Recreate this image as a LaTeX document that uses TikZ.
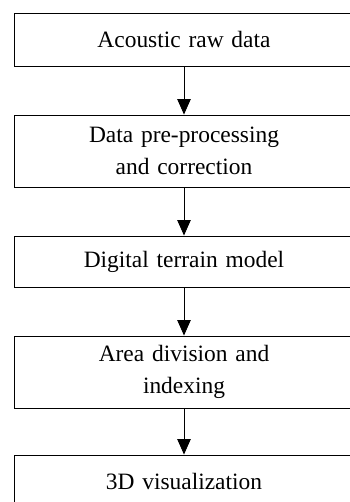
\documentclass[tikz,border=0pt]{standalone}
\usepackage{fontspec}
\setmainfont{Liberation Serif}
\usetikzlibrary{positioning, arrows.meta}

\begin{document}
\begin{tikzpicture}[
      stepbox/.style={rectangle, draw=black, line width=0.8pt,
                      minimum width=10.2cm, text width=9.8cm, align=center,
                      font=\fontsize{20}{27}\selectfont},
      arr/.style={-{Triangle[length=0.46cm, width=0.4cm]}, line width=0.7pt}
    ]
    \useasboundingbox (0,0) rectangle (10.47,-15.06);

    \node[stepbox, minimum height=1.59cm] (raw)  at (5.52, -1.185)
          {Acoustic raw data};
    \node[stepbox, minimum height=2.16cm] (prep) at (5.52, -4.53)
          {Data pre-processing\\and correction};
    \node[stepbox, minimum height=1.53cm] (dtm)  at (5.52, -7.845)
          {Digital terrain model};
    \node[stepbox, minimum height=2.16cm] (area) at (5.52, -11.16)
          {Area division and\\indexing};
    \node[stepbox, minimum height=1.59cm] (vis)  at (5.52, -14.445)
          {3D visualization};

    \draw[arr] (raw)  -- (prep);
    \draw[arr] (prep) -- (dtm);
    \draw[arr] (dtm)  -- (area);
    \draw[arr] (area) -- (vis);
  \end{tikzpicture}
\end{document}
